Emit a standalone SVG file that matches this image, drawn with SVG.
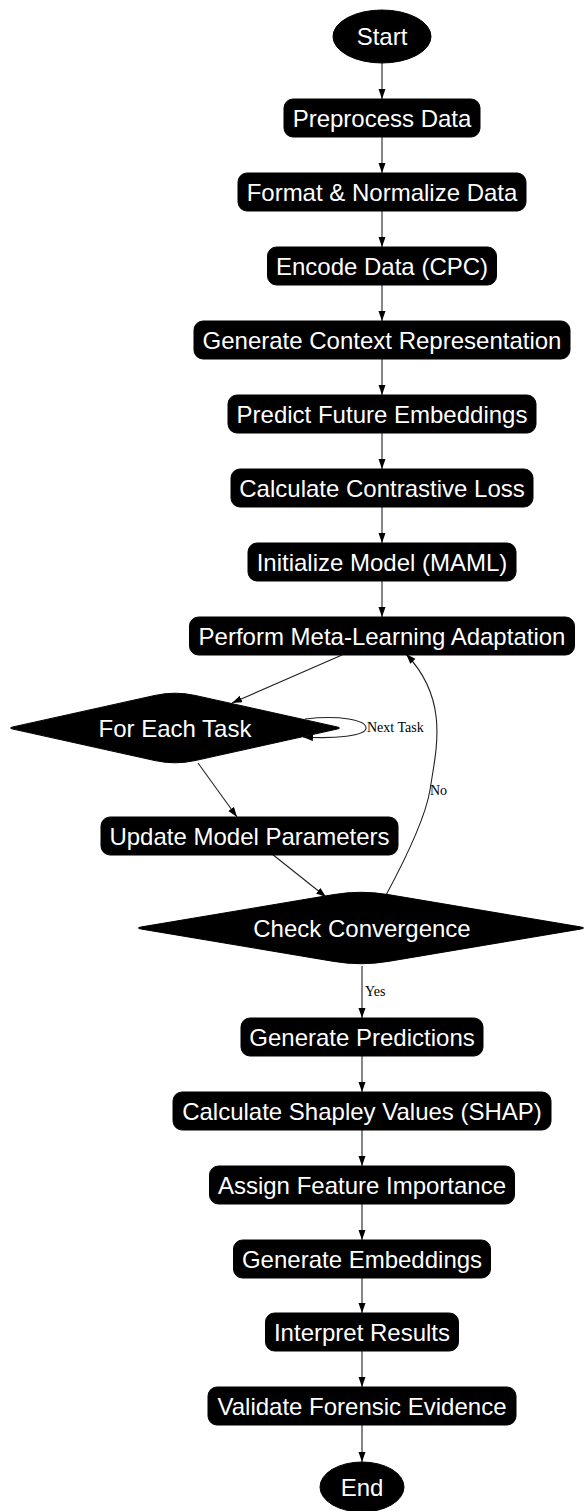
<svg xmlns="http://www.w3.org/2000/svg" width="584" height="1511" viewBox="0 0 584 1511">
<style>
.n{fill:#000;stroke:#000;stroke-width:1}
.t{fill:#fff;font-family:"Liberation Sans",Arial,sans-serif;font-size:24px;text-anchor:middle}
.e{fill:none;stroke:#222;stroke-width:1.1}
.l{fill:#000;font-family:"Liberation Serif","Times New Roman",serif;font-size:14px}
</style>
<defs>
<marker id="ah" markerUnits="userSpaceOnUse" markerWidth="10" markerHeight="8" refX="10" refY="3.5" orient="auto">
<path d="M0,0 L10,3.5 L0,7 z" fill="#000"/>
</marker>
</defs>
<rect width="584" height="1511" fill="#fff"/>
<g id="edges">
<path class="e" marker-end="url(#ah)" d="M382,63 L382,99"/>
<path class="e" marker-end="url(#ah)" d="M382,137 L382,173"/>
<path class="e" marker-end="url(#ah)" d="M382,211 L382,247"/>
<path class="e" marker-end="url(#ah)" d="M382,285 L382,321"/>
<path class="e" marker-end="url(#ah)" d="M382,359 L382,395"/>
<path class="e" marker-end="url(#ah)" d="M382,433 L382,469"/>
<path class="e" marker-end="url(#ah)" d="M382,507 L382,543"/>
<path class="e" marker-end="url(#ah)" d="M382,581 L382,617"/>
<path class="e" marker-end="url(#ah)" d="M342,655 L232,703"/>
<path class="e" marker-end="url(#ah)" d="M305,719 C340,715 366,720 366,728 C366,736 335,739 303,737"/>
<text class="l" x="367" y="732">Next Task</text>
<path class="e" marker-end="url(#ah)" d="M198,763 L237,817"/>
<path class="e" marker-end="url(#ah)" d="M272,854 L326,897"/>
<path class="e" marker-end="url(#ah)" d="M385,897 C405,860 425,820 430,790 C436,750 450,700 406,654"/>
<text class="l" x="430" y="795">No</text>
<path class="e" marker-end="url(#ah)" d="M362,966 L362,1018"/>
<text class="l" x="365" y="996">Yes</text>
<path class="e" marker-end="url(#ah)" d="M362,1056 L362,1092"/>
<path class="e" marker-end="url(#ah)" d="M362,1130 L362,1166"/>
<path class="e" marker-end="url(#ah)" d="M362,1204 L362,1240"/>
<path class="e" marker-end="url(#ah)" d="M362,1278 L362,1313"/>
<path class="e" marker-end="url(#ah)" d="M362,1351 L362,1387"/>
<path class="e" marker-end="url(#ah)" d="M362,1425 L362,1462"/>
</g>
<g id="start"><ellipse class="n" cx="382" cy="36.5" rx="49" ry="26.5"/><text class="t" x="382" y="45">Start</text></g>
<g id="preprocess"><rect class="n" x="284" y="99" width="196" height="38" rx="9"/><text class="t" x="382" y="126.5">Preprocess Data</text></g>
<g id="format"><rect class="n" x="238" y="173" width="288" height="38" rx="9"/><text class="t" x="382" y="200.5">Format &amp; Normalize Data</text></g>
<g id="encode"><rect class="n" x="267.5" y="247" width="229" height="38" rx="9"/><text class="t" x="382" y="274.5">Encode Data (CPC)</text></g>
<g id="context"><rect class="n" x="194" y="321" width="376" height="38" rx="9"/><text class="t" x="382" y="348.5">Generate Context Representation</text></g>
<g id="predict"><rect class="n" x="228" y="395" width="308" height="38" rx="9"/><text class="t" x="382" y="422.5">Predict Future Embeddings</text></g>
<g id="contrastive"><rect class="n" x="231" y="469" width="302" height="38" rx="9"/><text class="t" x="382" y="496.5">Calculate Contrastive Loss</text></g>
<g id="init"><rect class="n" x="248" y="543" width="268" height="38" rx="9"/><text class="t" x="382" y="570.5">Initialize Model (MAML)</text></g>
<g id="meta"><rect class="n" x="189.5" y="617" width="385" height="38" rx="9"/><text class="t" x="382" y="644.5">Perform Meta-Learning Adaptation</text></g>
<g id="foreach"><path class="n" d="M13,726.9 L155,695.4 Q175,691 195,695.4 L337,726.9 Q342,728 337,729.1 L195,760.6 Q175,765 155,760.6 L13,729.1 Q8,728 13,726.9 Z"/><text class="t" x="175" y="736.5">For Each Task</text></g>
<g id="update"><rect class="n" x="101" y="817" width="297" height="38" rx="9"/><text class="t" x="249.5" y="844.5">Update Model Parameters</text></g>
<g id="converge"><path class="n" d="M141.8,926.86 L333.9,894.56 Q361,890 388.1,894.56 L580.2,926.86 Q587,928 580.2,929.14 L388.1,961.44 Q361,966 333.9,961.44 L141.8,929.14 Q135,928 141.8,926.86 Z"/><text class="t" x="362" y="936.5">Check Convergence</text></g>
<g id="predictions"><rect class="n" x="241" y="1018" width="242" height="38" rx="9"/><text class="t" x="362" y="1045.5">Generate Predictions</text></g>
<g id="shap"><rect class="n" x="173" y="1092" width="378" height="38" rx="9"/><text class="t" x="362" y="1119.5">Calculate Shapley Values (SHAP)</text></g>
<g id="importance"><rect class="n" x="209.5" y="1166" width="305" height="38" rx="9"/><text class="t" x="362" y="1193.5">Assign Feature Importance</text></g>
<g id="embeddings"><rect class="n" x="233.5" y="1240" width="257" height="38" rx="9"/><text class="t" x="362" y="1267.5">Generate Embeddings</text></g>
<g id="interpret"><rect class="n" x="265.5" y="1313" width="193" height="38" rx="9"/><text class="t" x="362" y="1340.5">Interpret Results</text></g>
<g id="validate"><rect class="n" x="208" y="1387" width="308" height="38" rx="9"/><text class="t" x="362" y="1414.5">Validate Forensic Evidence</text></g>
<g id="end"><ellipse class="n" cx="362" cy="1487" rx="42" ry="25"/><text class="t" x="362" y="1495.5">End</text></g>
</svg>
